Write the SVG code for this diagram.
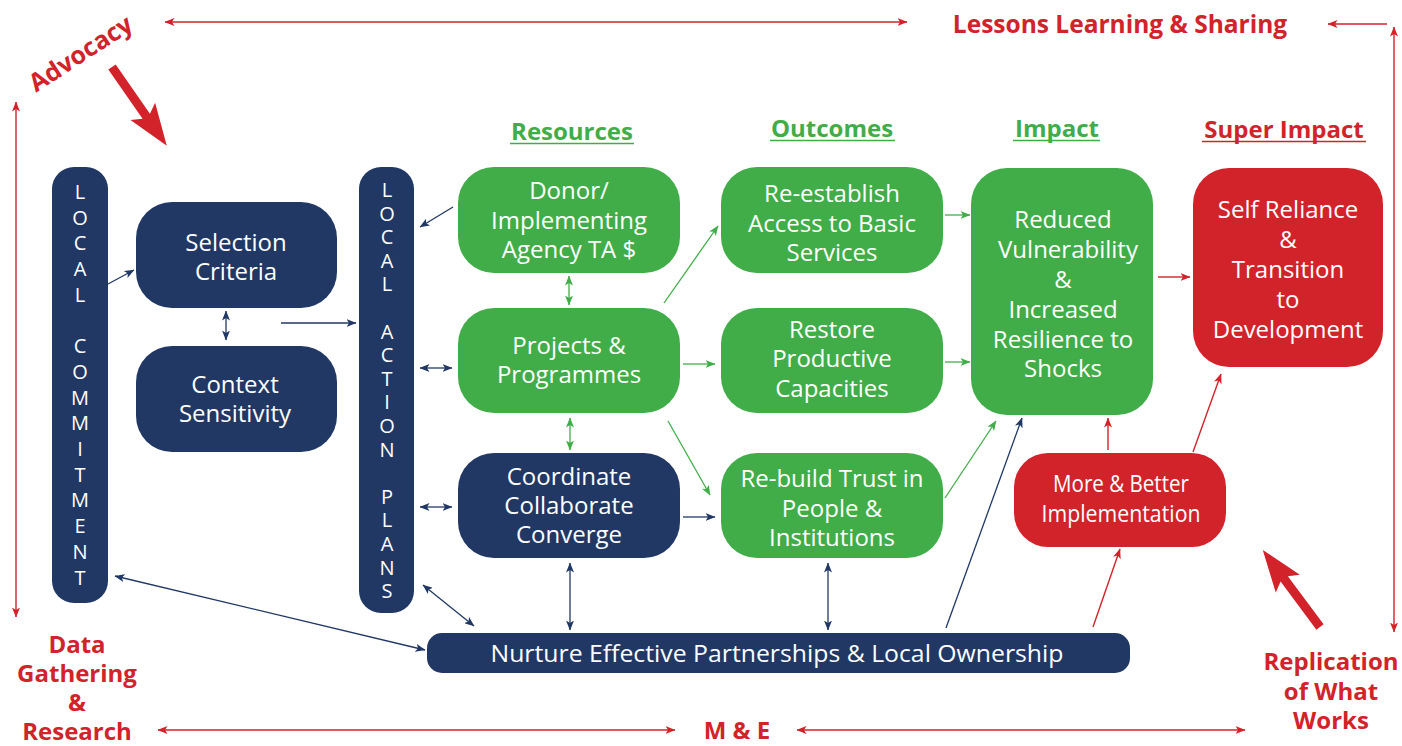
<svg xmlns="http://www.w3.org/2000/svg" width="1402" height="746" viewBox="0 0 1402 746">
<defs>
<style>
.nv{fill:#213865}
.gr{fill:#41ad49}
.rd{fill:#d2232b}
.t{font-family:"Open Sans","Liberation Sans",sans-serif;font-size:24px;fill:#fff;text-anchor:middle}
.v{font-family:"Open Sans","Liberation Sans",sans-serif;font-size:20px;fill:#fff;text-anchor:middle}
.b{font-family:"Open Sans","Liberation Sans",sans-serif;font-size:24px;font-weight:bold;text-anchor:middle}
.lr{stroke:#d2232b;stroke-width:1.4;fill:none}
.ln{stroke:#213865;stroke-width:1.3;fill:none}
.lg{stroke:#41ad49;stroke-width:1.3;fill:none}
</style>
<marker id="an" markerUnits="userSpaceOnUse" markerWidth="10" markerHeight="8" refX="9.5" refY="4" orient="auto-start-reverse"><path d="M0,0 L10,4 L0,8 L2.5,4 z" fill="#213865"/></marker>
<marker id="ag" markerUnits="userSpaceOnUse" markerWidth="10" markerHeight="8" refX="9.5" refY="4" orient="auto-start-reverse"><path d="M0,0 L10,4 L0,8 L2.5,4 z" fill="#41ad49"/></marker>
<marker id="ar" markerUnits="userSpaceOnUse" markerWidth="10" markerHeight="8" refX="9.5" refY="4" orient="auto-start-reverse"><path d="M0,0 L10,4 L0,8 L2.5,4 z" fill="#d2232b"/></marker>
</defs>
<rect width="1402" height="746" fill="#fff"/>

<g id="frame">
<line class="lr" x1="165" y1="22" x2="907" y2="22" marker-start="url(#ar)" marker-end="url(#ar)"/>
<line class="lr" x1="1387" y1="24" x2="1328" y2="24" marker-end="url(#ar)"/>
<line class="lr" x1="1394" y1="27" x2="1394" y2="632" marker-start="url(#ar)" marker-end="url(#ar)"/>
<line class="lr" x1="16" y1="102" x2="16" y2="617" marker-start="url(#ar)" marker-end="url(#ar)"/>
<line class="lr" x1="158" y1="730" x2="675" y2="730" marker-start="url(#ar)" marker-end="url(#ar)"/>
<line class="lr" x1="797" y1="730" x2="1245" y2="730" marker-start="url(#ar)" marker-end="url(#ar)"/>
<polygon class="rd" transform="translate(112,67) rotate(55.2)" points="0,-4.5 60,-4.5 54,-15 96,0 54,15 60,4.5 0,4.5"/>
<polygon class="rd" transform="translate(1320,627) rotate(-126.6)" points="0,-4.5 60,-4.5 54,-15 96,0 54,15 60,4.5 0,4.5"/>
</g>

<g id="labels">
<text class="b rd" x="1120" y="33" style="font-size:24.5px">Lessons Learning &amp; Sharing</text>
<text class="b rd" transform="translate(81,54) rotate(-33)" x="0" y="8" style="font-size:25px">Advocacy</text>
<text class="b rd" x="77" y="653">Data</text>
<text class="b rd" x="77" y="682">Gathering</text>
<text class="b rd" x="77" y="711">&amp;</text>
<text class="b rd" x="77" y="740">Research</text>
<text class="b rd" x="737" y="739">M &amp; E</text>
<text class="b rd" x="1331" y="670">Replication</text>
<text class="b rd" x="1331" y="700">of What</text>
<text class="b rd" x="1331" y="729">Works</text>
<text class="b gr" x="572" y="140">Resources</text>
<line x1="510" y1="143.5" x2="634" y2="143.5" stroke="#41ad49" stroke-width="1.5"/>
<text class="b gr" x="832" y="137">Outcomes</text>
<line x1="770" y1="140.5" x2="895" y2="140.5" stroke="#41ad49" stroke-width="1.5"/>
<text class="b gr" x="1057" y="137">Impact</text>
<line x1="1013" y1="140.5" x2="1100" y2="140.5" stroke="#41ad49" stroke-width="1.5"/>
<text class="b rd" x="1284" y="138">Super Impact</text>
<line x1="1202" y1="141.5" x2="1366" y2="141.5" stroke="#d2232b" stroke-width="1.5"/>
</g>

<g id="connectors">
<line class="ln" x1="108" y1="284" x2="134" y2="270" marker-end="url(#an)"/>
<line class="ln" x1="226" y1="311" x2="226" y2="340" marker-start="url(#an)" marker-end="url(#an)"/>
<line class="ln" x1="281" y1="323" x2="356" y2="323" marker-end="url(#an)"/>
<line class="ln" x1="453" y1="207" x2="420" y2="227" marker-end="url(#an)"/>
<line class="ln" x1="420" y1="368" x2="452" y2="368" marker-start="url(#an)" marker-end="url(#an)"/>
<line class="ln" x1="420" y1="507" x2="452" y2="507" marker-start="url(#an)" marker-end="url(#an)"/>
<line class="ln" x1="115" y1="576" x2="425" y2="650" marker-start="url(#an)" marker-end="url(#an)"/>
<line class="ln" x1="423" y1="585" x2="474" y2="626" marker-start="url(#an)" marker-end="url(#an)"/>
<line class="lg" x1="569" y1="276" x2="569" y2="305" marker-start="url(#ag)" marker-end="url(#ag)"/>
<line class="lg" x1="570" y1="418" x2="570" y2="450" marker-start="url(#ag)" marker-end="url(#ag)"/>
<line class="lg" x1="664" y1="303" x2="718" y2="226" marker-end="url(#ag)"/>
<line class="lg" x1="683" y1="364" x2="715" y2="364" marker-end="url(#ag)"/>
<line class="lg" x1="668" y1="421" x2="710" y2="495" marker-end="url(#ag)"/>
<line class="ln" x1="683" y1="517" x2="715" y2="517" marker-end="url(#an)"/>
<line class="ln" x1="570" y1="563" x2="570" y2="630" marker-start="url(#an)" marker-end="url(#an)"/>
<line class="ln" x1="828" y1="563" x2="828" y2="630" marker-start="url(#an)" marker-end="url(#an)"/>
<line class="lg" x1="945" y1="215" x2="970" y2="215" marker-end="url(#ag)"/>
<line class="lg" x1="945" y1="362" x2="970" y2="362" marker-end="url(#ag)"/>
<line class="lg" x1="945" y1="498" x2="996" y2="421" marker-end="url(#ag)"/>
<line class="ln" x1="946" y1="628" x2="1022" y2="418" marker-end="url(#an)"/>
<line class="lr" x1="1158" y1="277" x2="1190" y2="277" marker-end="url(#ar)"/>
<line class="lr" x1="1108" y1="450" x2="1108" y2="418" marker-end="url(#ar)"/>
<line class="lr" x1="1193" y1="452" x2="1221" y2="374" marker-end="url(#ar)"/>
<line class="lr" x1="1093" y1="627" x2="1120" y2="549" marker-end="url(#ar)"/>
</g>

<g id="local-commitment">
<rect class="nv" x="52" y="167" width="56" height="436" rx="22"/>
<text class="v"><tspan x="80" y="199">L</tspan><tspan x="80" y="224.7">O</tspan><tspan x="80" y="250.4">C</tspan><tspan x="80" y="276.1">A</tspan><tspan x="80" y="301.8">L</tspan><tspan x="80" y="353.2">C</tspan><tspan x="80" y="378.9">O</tspan><tspan x="80" y="404.6">M</tspan><tspan x="80" y="430.3">M</tspan><tspan x="80" y="456">I</tspan><tspan x="80" y="481.7">T</tspan><tspan x="80" y="507.4">M</tspan><tspan x="80" y="533.1">E</tspan><tspan x="80" y="558.8">N</tspan><tspan x="80" y="584.5">T</tspan></text>
</g>

<g id="selection-criteria">
<rect class="nv" x="136" y="202" width="201" height="106" rx="36"/>
<text class="t" x="236" y="251">Selection</text>
<text class="t" x="236" y="280">Criteria</text>
</g>

<g id="context-sensitivity">
<rect class="nv" x="136" y="346" width="201" height="106" rx="36"/>
<text class="t" x="235" y="393">Context</text>
<text class="t" x="235" y="422">Sensitivity</text>
</g>

<g id="local-action-plans">
<rect class="nv" x="359" y="167" width="55" height="446" rx="22"/>
<text class="v"><tspan x="387" y="197">L</tspan><tspan x="387" y="220.6">O</tspan><tspan x="387" y="244.2">C</tspan><tspan x="387" y="267.8">A</tspan><tspan x="387" y="291.4">L</tspan><tspan x="387" y="338.6">A</tspan><tspan x="387" y="362.2">C</tspan><tspan x="387" y="385.8">T</tspan><tspan x="387" y="409.4">I</tspan><tspan x="387" y="433">O</tspan><tspan x="387" y="456.6">N</tspan><tspan x="387" y="503.8">P</tspan><tspan x="387" y="527.4">L</tspan><tspan x="387" y="551">A</tspan><tspan x="387" y="574.6">N</tspan><tspan x="387" y="598.2">S</tspan></text>
</g>

<g id="donor">
<rect class="gr" x="458" y="167" width="222" height="106" rx="36"/>
<text class="t" x="569" y="199">Donor/</text>
<text class="t" x="569" y="229">Implementing</text>
<text class="t" x="569" y="258">Agency TA $</text>
</g>

<g id="projects">
<rect class="gr" x="458" y="308" width="222" height="105" rx="36"/>
<text class="t" x="569" y="354">Projects &amp;</text>
<text class="t" x="569" y="383">Programmes</text>
</g>

<g id="coordinate">
<rect class="nv" x="458" y="453" width="222" height="105" rx="36"/>
<text class="t" x="569" y="485">Coordinate</text>
<text class="t" x="569" y="514">Collaborate</text>
<text class="t" x="569" y="543">Converge</text>
</g>

<g id="re-establish">
<rect class="gr" x="721" y="167" width="222" height="106" rx="36"/>
<text class="t" x="832" y="202">Re-establish</text>
<text class="t" x="832" y="232">Access to Basic</text>
<text class="t" x="832" y="261">Services</text>
</g>

<g id="restore">
<rect class="gr" x="721" y="308" width="222" height="105" rx="36"/>
<text class="t" x="832" y="338">Restore</text>
<text class="t" x="832" y="367">Productive</text>
<text class="t" x="832" y="397">Capacities</text>
</g>

<g id="rebuild">
<rect class="gr" x="721" y="453" width="222" height="105" rx="36"/>
<text class="t" x="832" y="487">Re-build Trust in</text>
<text class="t" x="832" y="517">People &amp;</text>
<text class="t" x="832" y="546">Institutions</text>
</g>

<g id="reduced-vulnerability">
<rect class="gr" x="971" y="168" width="182" height="247" rx="36"/>
<text class="t" x="1063" y="228">Reduced</text>
<text class="t" x="1068" y="258">Vulnerability</text>
<text class="t" x="1063" y="288">&amp;</text>
<text class="t" x="1063" y="318">Increased</text>
<text class="t" x="1063" y="348">Resilience to</text>
<text class="t" x="1063" y="377">Shocks</text>
</g>

<g id="self-reliance">
<rect class="rd" x="1193" y="168" width="190" height="199" rx="36"/>
<text class="t" x="1288" y="218">Self Reliance</text>
<text class="t" x="1288" y="248">&amp;</text>
<text class="t" x="1288" y="278">Transition</text>
<text class="t" x="1288" y="308">to</text>
<text class="t" x="1288" y="338">Development</text>
</g>

<g id="more-better">
<rect class="rd" x="1014" y="453" width="212" height="94" rx="34"/>
<text class="t" x="1121" y="492" textLength="136" lengthAdjust="spacingAndGlyphs">More &amp; Better</text>
<text class="t" x="1121" y="522" textLength="159" lengthAdjust="spacingAndGlyphs">Implementation</text>
</g>

<g id="nurture">
<rect class="nv" x="427" y="633" width="703" height="40" rx="15"/>
<text class="t" x="777" y="662" textLength="573" lengthAdjust="spacingAndGlyphs">Nurture Effective Partnerships &amp;  Local Ownership</text>
</g>
</svg>
